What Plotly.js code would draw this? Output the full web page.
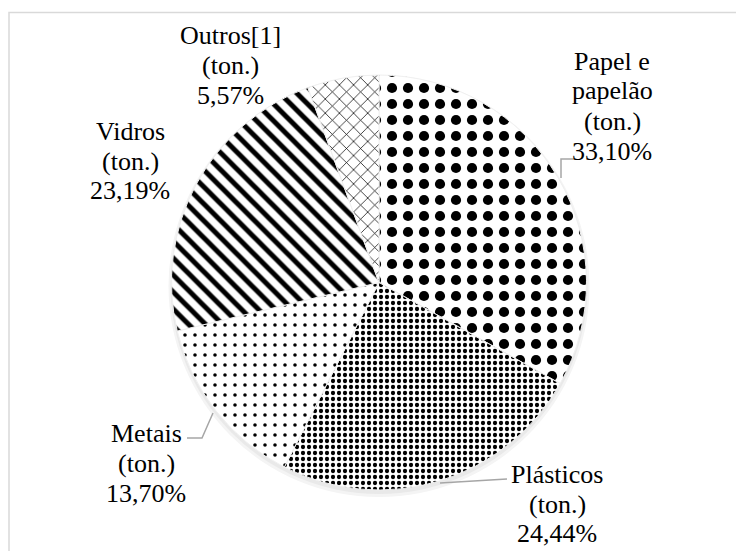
<!DOCTYPE html>
<html>
<head>
<meta charset="utf-8">
<script src="https://cdn.plot.ly/plotly-3.0.1.min.js"></script>
<style>
  html, body { margin: 0; padding: 0; background: #ffffff; }
  #chart { width: 736px; height: 551px; }
</style>
</head>
<body>
<div id="chart"></div>
<script>
// ---- data ----
const categories = ['Papel e<br>papelão<br>(ton.)', 'Plásticos<br>(ton.)', 'Metais<br>(ton.)', 'Vidros<br>(ton.)', 'Outros[1]<br>(ton.)'];
const shares = [33.10, 24.44, 13.70, 23.19, 5.57];

// ---- styling (not data) ----
const patternShapes = ['.', '.', '.', '\\', 'x'];
const patternSizes = [16, 6, 10, 12, 10];
const patternSolidity = [0.32, 0.4, 0.1, 0.42, 0.14];
// centre x, first-line y (px) and line spacing of each label block
const labelPos = [[612, 61, 30], [557, 475, 29], [146, 433, 30], [130, 131, 30], [230, 35, 30]];
const leaders = [
  [[561, 178], [561, 159], [573, 159]],
  [[440, 483], [507, 479]],
  [[213, 413], [202, 438], [187, 438]],
  null,
  null
];

const W = 736, H = 551;
const px = x => x / W;
const py = y => 1 - y / H;
const SERIF = 'Liberation Serif';
const PIE = { cx: 379, cy: 282.5, r: 207.5 };

function fmt(v) { return v.toFixed(2).replace('.', ',') + '%'; }

const trace = {
  type: 'pie',
  labels: categories,
  values: shares,
  sort: false,
  direction: 'clockwise',
  rotation: 0,
  textinfo: 'none',
  hoverinfo: 'label+percent',
  showlegend: false,
  domain: { x: [px(PIE.cx - PIE.r), px(PIE.cx + PIE.r)], y: [py(PIE.cy + PIE.r), py(PIE.cy - PIE.r)] },
  marker: {
    colors: categories.map(() => '#ffffff'),
    line: { color: '#f0f0f0', width: 1 },
    pattern: {
      shape: patternShapes,
      size: patternSizes,
      solidity: patternSolidity,
      fgcolor: '#000000',
      bgcolor: '#ffffff',
      fillmode: 'replace'
    }
  }
};

const annotations = [];
categories.forEach((c, i) => {
  const lines = c.split('<br>').concat([fmt(shares[i])]);
  lines.forEach((t, k) => {
    annotations.push({
      xref: 'paper', yref: 'paper',
      x: px(labelPos[i][0]), y: py(labelPos[i][1] + k * labelPos[i][2]),
      xanchor: 'center', yanchor: 'middle',
      text: t,
      showarrow: false,
      align: 'center',
      font: { family: SERIF, size: 26, color: '#000000' }
    });
  });
});

const shapes = [
  // soft shadow behind the pie
  { type: 'circle', xref: 'paper', yref: 'paper', layer: 'below',
    x0: px(PIE.cx - PIE.r - 3), x1: px(PIE.cx + PIE.r + 3),
    y0: py(PIE.cy + PIE.r + 7), y1: py(PIE.cy - PIE.r),
    fillcolor: '#f4f4f4', line: { width: 0 } },
  { type: 'circle', xref: 'paper', yref: 'paper', layer: 'below',
    x0: px(PIE.cx - PIE.r - 1), x1: px(PIE.cx + PIE.r + 1),
    y0: py(PIE.cy + PIE.r + 4), y1: py(PIE.cy - PIE.r + 1),
    fillcolor: '#e9e9e9', line: { width: 0 } },
  // chart border
  { type: 'rect', xref: 'paper', yref: 'paper',
    x0: px(9), x1: px(760), y0: py(580), y1: py(12.5),
    line: { color: '#d9d9d9', width: 1.5 }, fillcolor: 'rgba(0,0,0,0)' }
];
leaders.forEach(pts => {
  if (!pts) return;
  const path = pts.map((p, k) => (k ? 'L' : 'M') + px(p[0]) + ',' + py(p[1])).join(' ');
  shapes.push({ type: 'path', xref: 'paper', yref: 'paper', path: path,
    line: { color: '#a6a6a6', width: 1.5 } });
});

const layout = {
  width: W, height: H,
  margin: { l: 0, r: 0, t: 0, b: 0 },
  paper_bgcolor: '#ffffff',
  plot_bgcolor: '#ffffff',
  showlegend: false,
  font: { family: SERIF, size: 26, color: '#000000' },
  annotations: annotations,
  shapes: shapes
};

Plotly.newPlot('chart', [trace], layout, { displayModeBar: false, staticPlot: true });
</script>
</body>
</html>
